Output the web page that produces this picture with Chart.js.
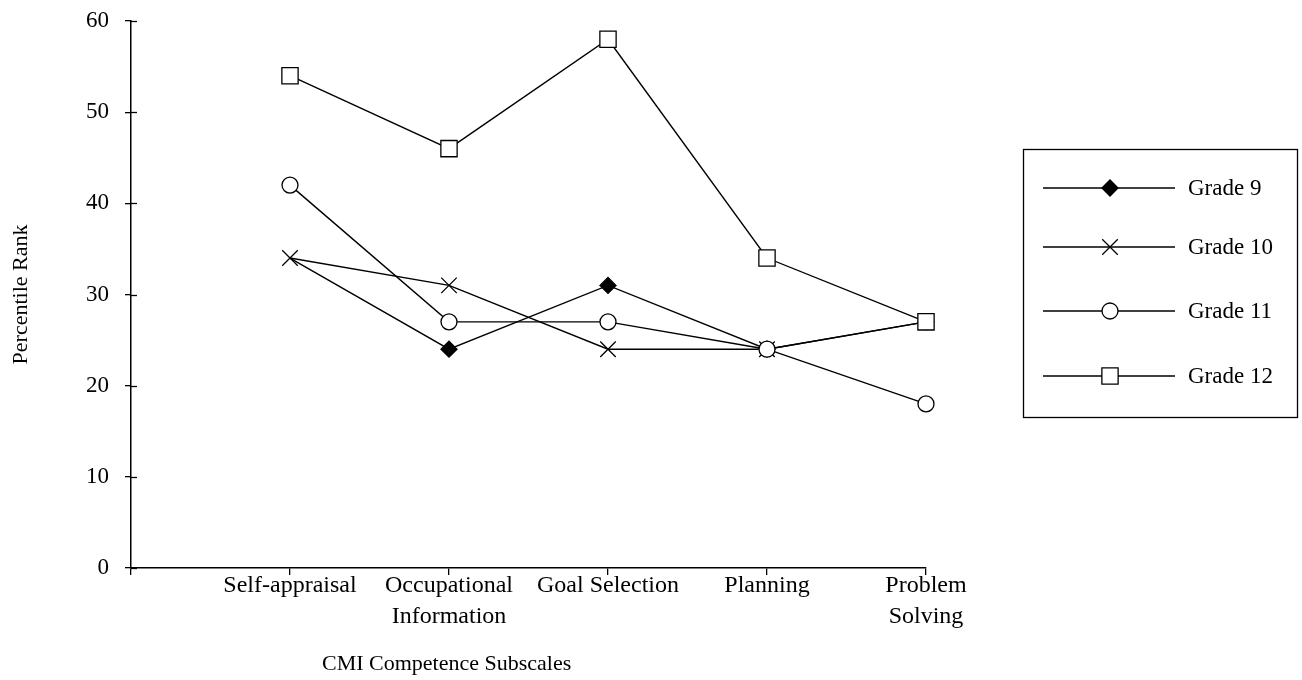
<!DOCTYPE html>
<html><head><meta charset="utf-8">
<script src="https://cdn.jsdelivr.net/npm/chart.js@4.4.0/dist/chart.umd.min.js"></script>
<style>html,body{margin:0;padding:0;background:#fff;} #wrap{width:1302px;height:680px;position:relative;}</style>
</head><body><div id="wrap"><canvas id="c" width="1302" height="680"></canvas></div>
<script>
const categories = ['Self-appraisal', ['Occupational', 'Information'], 'Goal Selection', 'Planning', ['Problem', 'Solving']];
const seriesNames = ['Grade 9', 'Grade 10', 'Grade 11', 'Grade 12'];
const grade9  = [34, 24, 31, 24, 27];
const grade10 = [34, 31, 24, 24, 27];
const grade11 = [42, 27, 27, 24, 18];
const grade12 = [54, 46, 58, 34, 27];
const yTicks = [0, 10, 20, 30, 40, 50, 60];
const yTitle = 'Percentile Rank';
const xTitle = 'CMI Competence Subscales';

const FONT = "'Liberation Serif', 'Times New Roman', serif";
const styles = [
  { pointStyle: 'rectRot', radius: 8, bg: '#000', order: 3 },
  { pointStyle: 'crossRot', radius: 11, bg: '#000', order: 2 },
  { pointStyle: 'circle', radius: 8, bg: '#fff', order: 1 },
  { pointStyle: 'rect', radius: 11.5, bg: '#fff', order: 0 }
];
const allSeries = [grade9, grade10, grade11, grade12];

const datasets = allSeries.map((vals, i) => ({
  label: seriesNames[i],
  data: [null].concat(vals),
  borderColor: '#000',
  borderWidth: 1.4,
  backgroundColor: styles[i].bg,
  pointStyle: styles[i].pointStyle,
  // in the reference the Grade 9 marker at Self-appraisal is not drawn (only the X shows)
  pointRadius: (c) => (i === 0 && c.dataIndex === 1) ? 0 : styles[i].radius,
  pointBorderWidth: 1.3,
  pointBorderColor: '#000',
  pointBackgroundColor: styles[i].bg,
  order: styles[i].order,
  tension: 0,
  fill: false
}));

const yInnerTicks = {
  id: 'yInnerTicks',
  afterDraw(chart) {
    const ctx = chart.ctx, y = chart.scales.y;
    ctx.save();
    ctx.strokeStyle = '#000';
    ctx.lineWidth = 1.3;
    y.ticks.forEach(t => {
      const py = Math.round(y.getPixelForValue(t.value)) + 0.5;
      ctx.beginPath();
      ctx.moveTo(y.right, py);
      ctx.lineTo(y.right + 6, py);
      ctx.stroke();
    });
    ctx.restore();
  }
};

const xTitlePlugin = {
  id: 'xTitlePlugin',
  afterDraw(chart) {
    const ctx = chart.ctx, a = chart.chartArea;
    ctx.save();
    ctx.font = '22px ' + FONT;
    ctx.fillStyle = '#000';
    ctx.textAlign = 'center';
    ctx.textBaseline = 'middle';
    ctx.fillText(xTitle, a.left + (a.right - a.left) * 0.397, 664);
    ctx.restore();
  }
};

function drawMarker(ctx, st, x, y) {
  ctx.fillStyle = st.bg;
  ctx.strokeStyle = '#000';
  ctx.lineWidth = 1.3;
  if (Chart.helpers && Chart.helpers.drawPoint) {
    Chart.helpers.drawPoint(ctx, { pointStyle: st.pointStyle, radius: st.radius, rotation: 0, borderWidth: 1.3 }, x, y);
  }
}

const legendRows = [188, 247, 311, 376];
const boxLegend = {
  id: 'boxLegend',
  afterDraw(chart) {
    const ctx = chart.ctx;
    const bx = 1023, by = 149, bw = 274, bh = 268;
    ctx.save();
    ctx.strokeStyle = '#000';
    ctx.lineWidth = 1.3;
    ctx.strokeRect(bx + 0.5, by + 0.5, bw, bh);
    chart.data.datasets.forEach((ds, i) => {
      const cy = legendRows[i];
      ctx.strokeStyle = '#000';
      ctx.lineWidth = 1.4;
      ctx.beginPath();
      ctx.moveTo(1043, cy);
      ctx.lineTo(1175, cy);
      ctx.stroke();
      drawMarker(ctx, styles[i], 1110, cy);
      ctx.fillStyle = '#000';
      ctx.font = '23px ' + FONT;
      ctx.textAlign = 'left';
      ctx.textBaseline = 'middle';
      ctx.fillText(ds.label, 1188, cy + 1);
    });
    ctx.restore();
  }
};

new Chart(document.getElementById('c'), {
  type: 'line',
  data: { labels: [''].concat(categories), datasets },
  options: {
    responsive: false,
    animation: false,
    devicePixelRatio: 1,
    layout: { padding: { left: 0, top: 21, right: 376, bottom: 0 } },
    plugins: { legend: { display: false }, tooltip: { enabled: false } },
    scales: {
      x: {
        type: 'category',
        offset: false,
        border: { display: true, color: '#000', width: 1.5 },
        grid: { display: true, drawOnChartArea: false, drawTicks: true, tickLength: 7, color: '#000', lineWidth: 1.3 },
        ticks: { autoSkip: false, maxRotation: 0, minRotation: 0, color: '#000', padding: -5,
                 font: { family: FONT, size: 24, lineHeight: 1.3 } },
        afterFit(s) { s.height = 112; s.paddingLeft = 0; s.paddingRight = 0; }
      },
      y: {
        min: 0, max: 60,
        border: { display: true, color: '#000', width: 1.5 },
        grid: { display: true, drawOnChartArea: false, drawTicks: true, tickLength: 6, color: '#000', lineWidth: 1.3 },
        ticks: { color: '#000', padding: 16, font: { family: FONT, size: 23 } },
        afterBuildTicks(s) { s.ticks = yTicks.map(v => ({ value: v })); },
        title: { display: true, text: yTitle, color: '#000', font: { family: FONT, size: 22 }, padding: { top: 8, bottom: 4 } },
        afterFit(s) { s.width = 131; s.paddingTop = 0; s.paddingBottom = 0; }
      }
    }
  },
  plugins: [yInnerTicks, xTitlePlugin, boxLegend]
});
</script>
</body></html>
